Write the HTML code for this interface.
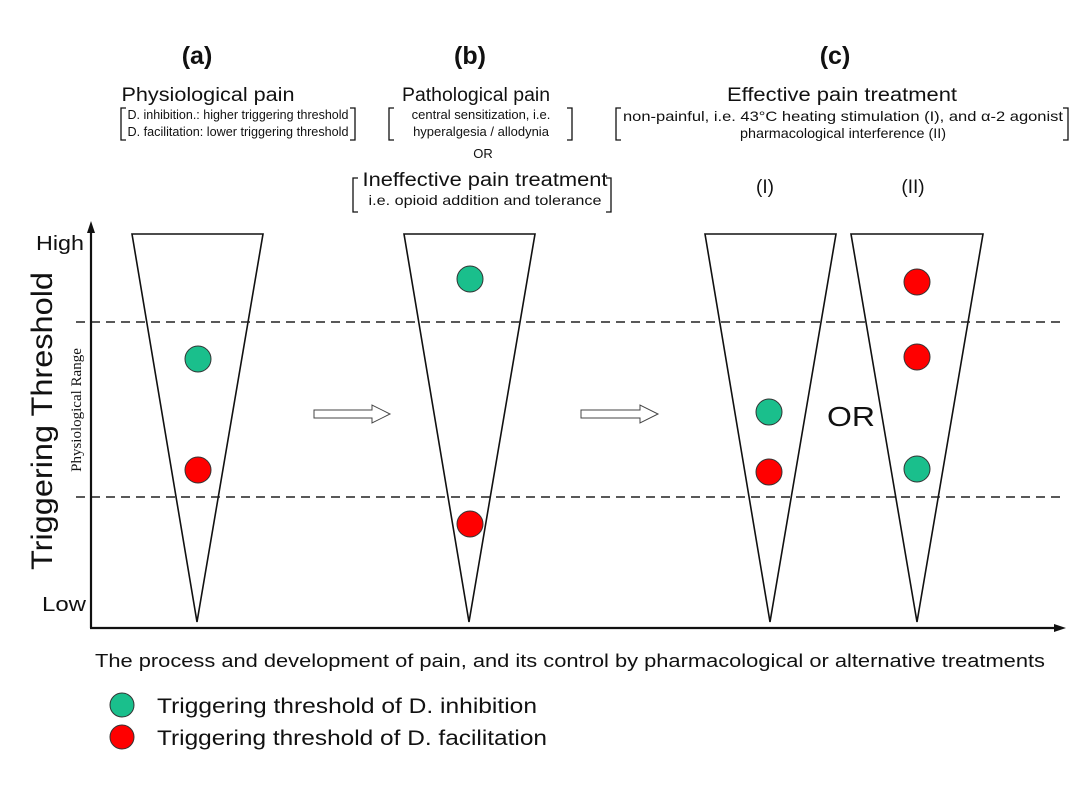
<!DOCTYPE html>
<html><head><meta charset="utf-8"><style>
html,body{margin:0;padding:0;background:#fff}
svg{display:block;font-family:"Liberation Sans",sans-serif}
</style></head><body>
<svg width="1080" height="786" viewBox="0 0 1080 786" xmlns="http://www.w3.org/2000/svg">
<g fill="#111" text-anchor="middle">
<text x="197" y="64" font-size="25" font-weight="bold">(a)</text>
<text x="470" y="64" font-size="25" font-weight="bold">(b)</text>
<text x="835" y="64" font-size="25" font-weight="bold">(c)</text>
<text x="208" y="101" font-size="19" textLength="173" lengthAdjust="spacingAndGlyphs">Physiological pain</text>
<text x="238" y="119" font-size="13" textLength="221" lengthAdjust="spacingAndGlyphs">D. inhibition.: higher triggering threshold</text>
<text x="238" y="136" font-size="13" textLength="221" lengthAdjust="spacingAndGlyphs">D. facilitation: lower triggering threshold</text>
<text x="476" y="101" font-size="19" textLength="148" lengthAdjust="spacingAndGlyphs">Pathological pain</text>
<text x="481" y="119" font-size="13">central sensitization, i.e.</text>
<text x="481" y="136" font-size="13">hyperalgesia / allodynia</text>
<text x="483" y="158" font-size="13">OR</text>
<text x="485" y="186" font-size="19" textLength="245" lengthAdjust="spacingAndGlyphs">Ineffective pain treatment</text>
<text x="485" y="205" font-size="14" textLength="233" lengthAdjust="spacingAndGlyphs">i.e. opioid addition and tolerance</text>
<text x="842" y="101" font-size="19" textLength="230" lengthAdjust="spacingAndGlyphs">Effective pain treatment</text>
<text x="843" y="121" font-size="14" textLength="440" lengthAdjust="spacingAndGlyphs">non-painful, i.e. 43°C heating stimulation (I), and α-2 agonist</text>
<text x="843" y="138" font-size="14" textLength="206" lengthAdjust="spacingAndGlyphs">pharmacological interference (II)</text>
<text x="765" y="193" font-size="19">(I)</text>
<text x="913" y="193" font-size="19">(II)</text>
</g>
<g fill="none" stroke="#111" stroke-width="1.3">
<polyline points="126,108 121,108 121,140 126,140"/>
<polyline points="350,108 355,108 355,140 350,140"/>
<polyline points="394,108 389,108 389,140 394,140"/>
<polyline points="567,108 572,108 572,140 567,140"/>
<polyline points="358,178 353,178 353,212 358,212"/>
<polyline points="606,178 611,178 611,212 606,212"/>
<polyline points="621,108 616,108 616,140 621,140"/>
<polyline points="1063,108 1068,108 1068,140 1063,140"/>
</g>
<g stroke="#111" stroke-width="1.6" fill="none">
<polygon points="132,234 263,234 197,622"/>
<polygon points="404,234 535,234 469,622"/>
<polygon points="705,234 836,234 770,622"/>
<polygon points="851,234 983,234 917,622"/>
</g>
<g stroke="#222" stroke-width="1.6" stroke-dasharray="9,6">
<line x1="76" y1="322" x2="1062" y2="322"/>
<line x1="76" y1="497" x2="1062" y2="497"/>
</g>
<g stroke="#111" stroke-width="2.2">
<line x1="91" y1="226" x2="91" y2="628"/>
<line x1="90" y1="628" x2="1058" y2="628"/>
</g>
<polygon points="91,221 87,233 95,233" fill="#111"/>
<polygon points="1066,628 1054,624 1054,632" fill="#111"/>
<g fill="none" stroke="#444" stroke-width="1">
<polygon points="314,410 372,410 372,405 390,414 372,423 372,418 314,418"/>
<polygon points="581,410 640,410 640,405 658,414 640,423 640,418 581,418"/>
</g>
<g stroke="#333" stroke-width="1">
<circle cx="198" cy="359" r="13" fill="#1abf8c"/>
<circle cx="198" cy="470" r="13" fill="#f00"/>
<circle cx="470" cy="279" r="13" fill="#1abf8c"/>
<circle cx="470" cy="524" r="13" fill="#f00"/>
<circle cx="769" cy="412" r="13" fill="#1abf8c"/>
<circle cx="769" cy="472" r="13" fill="#f00"/>
<circle cx="917" cy="282" r="13" fill="#f00"/>
<circle cx="917" cy="357" r="13" fill="#f00"/>
<circle cx="917" cy="469" r="13" fill="#1abf8c"/>
<circle cx="122" cy="705" r="12" fill="#1abf8c"/>
<circle cx="122" cy="737" r="12" fill="#f00"/>
</g>
<g fill="#111">
<text x="851" y="426" font-size="28" text-anchor="middle" textLength="48" lengthAdjust="spacingAndGlyphs">OR</text>
<text x="36" y="250" font-size="20" textLength="48" lengthAdjust="spacingAndGlyphs">High</text>
<text x="42" y="611" font-size="20" textLength="44" lengthAdjust="spacingAndGlyphs">Low</text>
<text transform="translate(52,421) rotate(-90)" font-size="30" text-anchor="middle" textLength="298" lengthAdjust="spacingAndGlyphs">Triggering Threshold</text>
<text transform="translate(81,410) rotate(-90)" font-size="15" text-anchor="middle" font-family="Liberation Serif,serif">Physiological Range</text>
<text x="570" y="667" font-size="18" text-anchor="middle" textLength="950" lengthAdjust="spacingAndGlyphs">The process and development of pain, and its control by pharmacological or alternative treatments</text>
<text x="157" y="713" font-size="21" textLength="380" lengthAdjust="spacingAndGlyphs">Triggering threshold of D. inhibition</text>
<text x="157" y="745" font-size="21" textLength="390" lengthAdjust="spacingAndGlyphs">Triggering threshold of D. facilitation</text>
</g>
</svg>
</body></html>
